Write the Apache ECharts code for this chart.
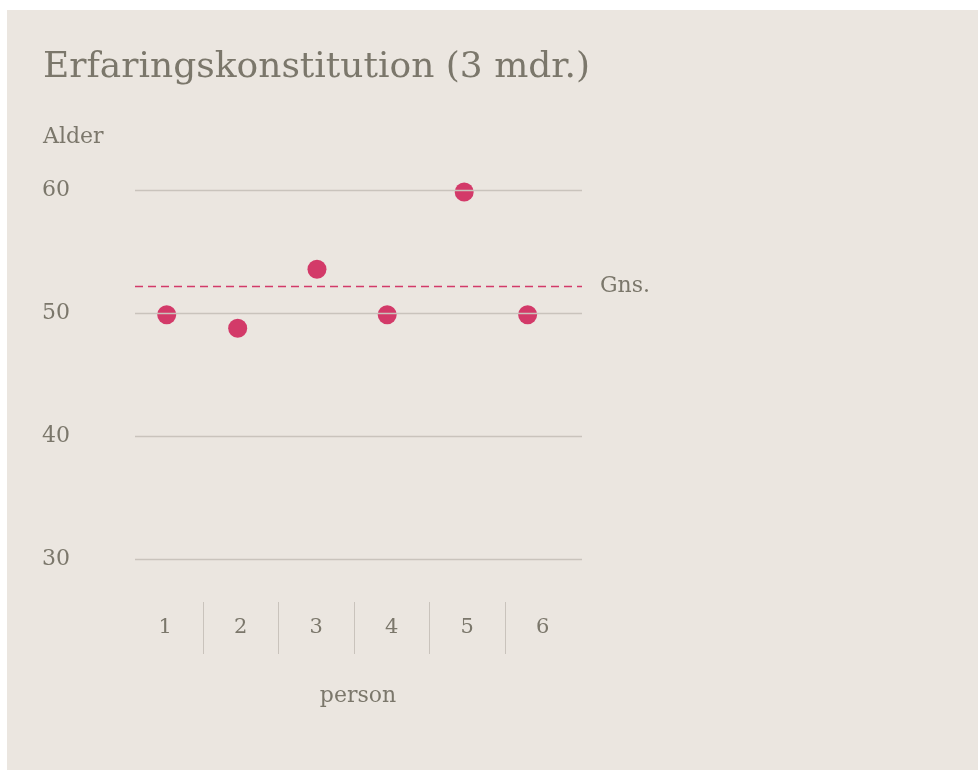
<!DOCTYPE html>
<html>
<head>
<meta charset="utf-8">
<script src="https://cdn.jsdelivr.net/npm/echarts@6/dist/echarts.min.js"></script>
<style>
html,body{margin:0;padding:0;background:#ffffff;}
#chart{width:978px;height:770px;}
</style>
</head>
<body>
<div id="chart"></div>
<script>
// ---- data ----
var titleText = 'Erfaringskonstitution (3 mdr.)';
var yAxisName = 'Alder';
var xAxisName = 'person';
var meanLabel = 'Gns.';
var persons = ['1', '2', '3', '4', '5', '6'];
// x position of each dot (person index with the small horizontal jitter seen in the picture)
var dotX = [1.02, 1.96, 3.01, 3.94, 4.96, 5.80];
var ages = [49.9, 48.8, 53.6, 49.9, 59.9, 49.9];
var meanAge = 52.2;
var yMin = 30, yMax = 60, yStep = 10;

// ---- styles ----
var FONT = "Georgia, 'DejaVu Serif', serif";
var TXT = '#7b776b';
var GRID = '#c9c3bc';
var PINK = '#d33a69';
var BG = '#ebe6e0';

var points = dotX.map(function (x, i) { return [x, ages[i]]; });

var chart = echarts.init(document.getElementById('chart'), null, {renderer: 'canvas'});
chart.setOption({
  backgroundColor: '#ffffff',
  animation: false,
  graphic: [
    {type: 'rect', z: -100, silent: true, shape: {x: 7, y: 10, width: 971, height: 760}, style: {fill: BG}},
    {type: 'text', left: 43, top: 126, style: {text: yAxisName, fill: TXT, font: '22px ' + FONT}}
  ],
  title: {
    text: titleText, left: 38, top: 45,
    textStyle: {color: TXT, fontFamily: FONT, fontWeight: 'normal', fontSize: 36}
  },
  grid: [
    {left: 135, right: 396, top: 190.7, bottom: 210.7},
    {left: 127.5, right: 397.5, top: 602, height: 52}
  ],
  xAxis: [
    {type: 'value', gridIndex: 0, min: 0.6, max: 6.52, show: false},
    {
      type: 'category', gridIndex: 1, data: persons, boundaryGap: true,
      axisLine: {show: false}, axisTick: {show: false},
      splitLine: {show: true, showMinLine: false, showMaxLine: false, lineStyle: {color: GRID, width: 1}},
      axisLabel: {inside: true, margin: 26, verticalAlign: 'middle', color: TXT, fontFamily: FONT, fontSize: 21},
      name: xAxisName, nameLocation: 'middle', nameGap: 31,
      nameTextStyle: {color: TXT, fontFamily: FONT, fontSize: 22, padding: [0, 0, 0, 8]}
    }
  ],
  yAxis: [
    {
      type: 'value', gridIndex: 0, min: yMin, max: yMax, interval: yStep,
      axisLine: {show: false}, axisTick: {show: false},
      splitLine: {show: true, lineStyle: {color: GRID, width: 1.3}},
      axisLabel: {align: 'left', margin: 93, color: TXT, fontFamily: FONT, fontSize: 22}
    },
    {type: 'value', gridIndex: 1, show: false}
  ],
  series: [
    {
      type: 'scatter', xAxisIndex: 0, yAxisIndex: 0, z: -1,
      data: points, symbol: 'circle', symbolSize: 19,
      itemStyle: {color: PINK, opacity: 1},
      markLine: {
        silent: true, symbol: 'none',
        lineStyle: {color: PINK, type: [8, 5], width: 1.4},
        label: {show: true, position: 'end', distance: 18, formatter: meanLabel, color: TXT, fontFamily: FONT, fontSize: 22},
        data: [{yAxis: meanAge}]
      }
    }
  ]
});
</script>
</body>
</html>
